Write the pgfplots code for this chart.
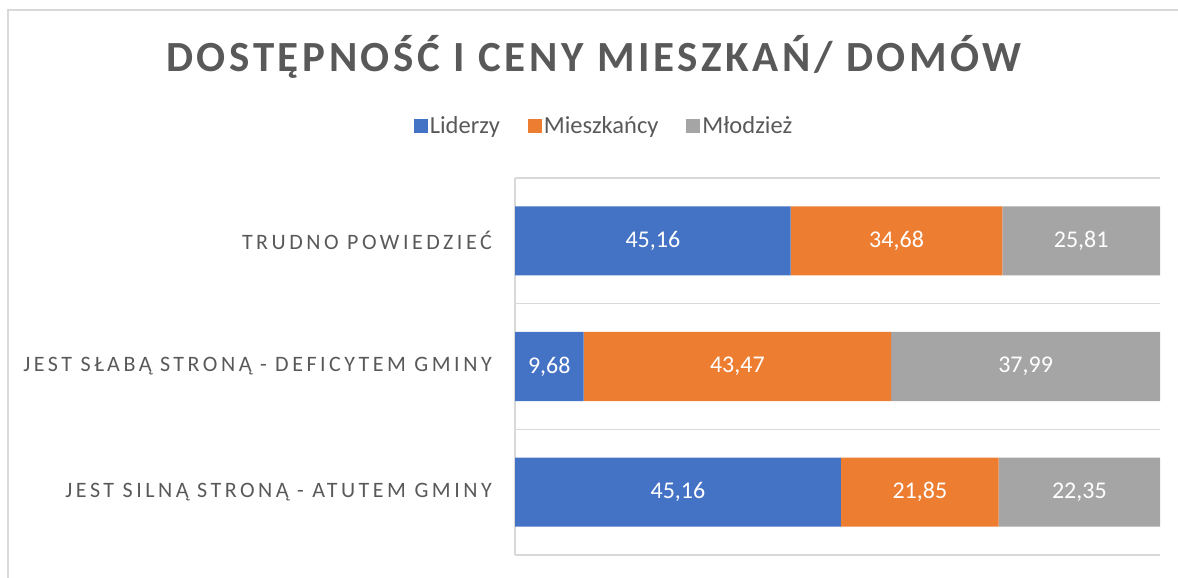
\documentclass[border=0pt]{standalone}
\usepackage{fontspec}
\setmainfont{Carlito}
\newfontfamily\titlefont[LetterSpace=8.4]{Carlito}
\newfontfamily\catfont[LetterSpace=16]{Carlito}
\usepackage{pgfplots}
\usepackage{pgfplotstable}
\pgfplotsset{compat=1.18}
\definecolor{cblue}{HTML}{4472C4}
\definecolor{corange}{HTML}{ED7D31}
\definecolor{cgray}{HTML}{A5A5A5}
\definecolor{ctext}{HTML}{595959}
\definecolor{cgrid}{HTML}{D9D9D9}
\pgfplotstableread{
cat L M Mo
0 45.16 21.85 22.35
1 9.68 43.47 37.99
2 45.16 34.68 25.81
}\data
\begin{document}
\begin{tikzpicture}
\useasboundingbox (0,0) rectangle (1178pt,578pt);
\draw[cgrid, line width=2pt] (8pt,0pt) -- (8pt,568pt) -- (1178pt,568pt);
\node[text=ctext, font=\titlefont\bfseries\fontsize{43}{50}\selectfont, anchor=center] at (594pt,521pt) {DOSTĘPNOŚĆ I CENY MIESZKAŃ/ DOMÓW};
\begin{axis}[
  at={(515pt,23pt)}, anchor=south west,
  scale only axis, width=645pt, height=377pt,
  xbar stacked, bar width=0.55,
  xmin=0, xmax=100, ymin=-0.5, ymax=2.5,
  enlargelimits=false,
  axis line style={draw=none},
  tick style={draw=none},
  xtick=\empty,
  extra x ticks={0}, extra x tick labels={},
  extra x tick style={grid=major, major grid style={cgrid, line width=1.5pt}},
  ytick={0,1,2},
  yticklabels={JEST SILNĄ STRONĄ - ATUTEM GMINY, JEST SŁABĄ STRONĄ - DEFICYTEM GMINY, TRUDNO POWIEDZIEĆ},
  yticklabel style={font=\catfont\fontsize{22}{26}\selectfont, text=ctext, inner sep=0pt, xshift=-23pt},
  minor ytick={-0.5,0.5,1.5,2.5},
  yminorgrids,
  minor grid style={cgrid, line width=1.5pt},
  major tick length=0pt, minor tick length=0pt,
  legend style={at={(0.138,1.138)}, anchor=center, draw=none, fill=none,
    legend columns=-1, font=\fontsize{24.5}{28}\selectfont, text=ctext,
    /tikz/every even column/.append style={column sep=26pt},
    inner sep=0pt},
  legend image code/.code={\fill[#1] (0pt,-7pt) rectangle (14pt,7pt);},
  point meta=explicit,
  nodes near coords={\pgfmathprintnumber[fixed,fixed zerofill,precision=2,use comma,assume math mode=true]{\pgfplotspointmeta}},
  every node near coord/.append style={font=\fontsize{24}{28}\selectfont, text=white, anchor=center},
]
\addplot[fill=cblue, draw=none]
  table[x expr={\thisrow{L}/(\thisrow{L}+\thisrow{M}+\thisrow{Mo})*100}, y=cat, meta=L] {\data};
\addlegendentry{Liderzy}
\addplot[fill=corange, draw=none]
  table[x expr={\thisrow{M}/(\thisrow{L}+\thisrow{M}+\thisrow{Mo})*100}, y=cat, meta=M] {\data};
\addlegendentry{Mieszkańcy}
\addplot[fill=cgray, draw=none]
  table[x expr={\thisrow{Mo}/(\thisrow{L}+\thisrow{M}+\thisrow{Mo})*100}, y=cat, meta=Mo] {\data};
\addlegendentry{Młodzież}
\end{axis}
\end{tikzpicture}
\end{document}
